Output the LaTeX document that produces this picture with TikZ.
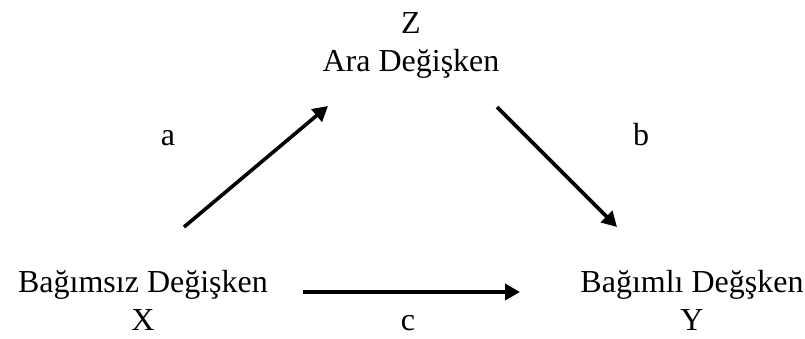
\documentclass[tikz,border=0pt]{standalone}
\usepackage{fontspec}
\setmainfont{Liberation Serif}
\usetikzlibrary{arrows.meta, positioning}

\begin{document}
\begin{tikzpicture}[
    x=1pt, y=-1pt,
    term/.style={align=center, anchor=base, inner sep=0pt, font=\fontsize{32}{37.5}\selectfont},
    coef/.style={anchor=base, inner sep=0pt, font=\fontsize{32}{37.5}\selectfont},
    arrow/.style={line width=3.6pt, -{Triangle[length=15pt, width=16pt]}},
]
    \useasboundingbox (0,0) rectangle (805,338);

    % Variables (base = last line)
    \node (med) [term] at (411,71) {Z\\Ara Değişken};
    \node (indep) [term] at (143,330) {Bağımsız Değişken\\X};
    \node (dep) [term] at (692,330) {Bağımlı Değşken\\Y};

    % Path labels
    \node (la) [coef] at (168,145) {a};
    \node (lb) [coef] at (641,145) {b};
    \node (lc) [coef] at (408,330) {c};

    % Arrow ends
    \coordinate (a1) at (184,227);
    \coordinate (a2) at (328,106);
    \coordinate (b1) at (497,107);
    \coordinate (b2) at (617,227);
    \coordinate (c1) at (303,292);
    \coordinate (c2) at (520,292);

    \draw [arrow] (a1) -- (a2);
    \draw [arrow] (b1) -- (b2);
    \draw [arrow] (c1) -- (c2);

\end{tikzpicture}
\end{document}
